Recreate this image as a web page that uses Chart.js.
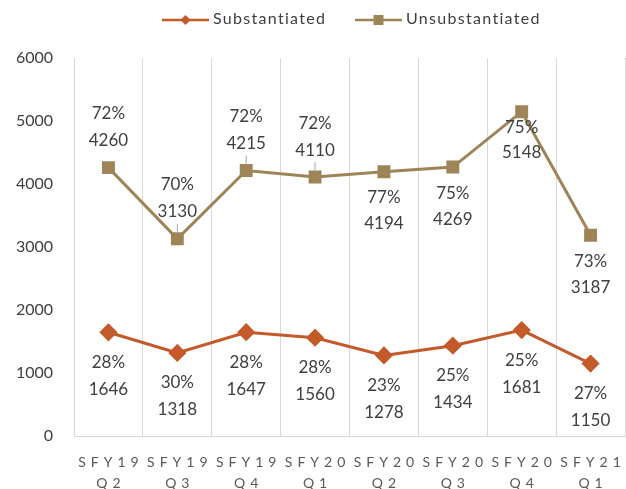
<!DOCTYPE html>
<html>
<head>
<meta charset="utf-8">
<script src="https://cdn.jsdelivr.net/npm/chart.js@4"></script>
<style>
  html, body { margin: 0; padding: 0; background: #fff; }
  #wrap { width: 626px; height: 489px; }
</style>
</head>
<body>
<div id="wrap"><canvas id="chart" width="626" height="489"></canvas></div>
<script>
const quarters = [['SFY19', 'Q2'], ['SFY19', 'Q3'], ['SFY19', 'Q4'], ['SFY20', 'Q1'],
                  ['SFY20', 'Q2'], ['SFY20', 'Q3'], ['SFY20', 'Q4'], ['SFY21', 'Q1']];
const substantiated = [1646, 1318, 1647, 1560, 1278, 1434, 1681, 1150];
const unsubstantiated = [4260, 3130, 4215, 4110, 4194, 4269, 5148, 3187];
const substPct = ['28%', '30%', '28%', '28%', '23%', '25%', '25%', '27%'];
const unsubPct = ['72%', '70%', '72%', '72%', '77%', '75%', '75%', '73%'];
// where the unsubstantiated labels sit: above or below the point
const unsubAbove = [true, true, true, true, false, false, false, false];

const ORANGE = '#C4592A';
const TAN = '#9E8457';
const FONT = 'Lato, "Open Sans", sans-serif';

const labelPlugin = {
  id: 'labels',
  afterDraw(chart) {
    const ctx = chart.ctx;
    const x = chart.scales.x;
    ctx.save();

    // data labels
    ctx.font = '17px ' + FONT;
    ctx.fillStyle = '#404040';
    ctx.textAlign = 'center';
    ctx.textBaseline = 'middle';
    chart.getDatasetMeta(0).data.forEach((pt, i) => {
      ctx.fillText(substPct[i], pt.x, pt.y + 30);
      ctx.fillText(String(substantiated[i]), pt.x, pt.y + 57);
    });
    chart.getDatasetMeta(1).data.forEach((pt, i) => {
      if (i === 6) {
        ctx.fillText(unsubPct[i], pt.x, pt.y + 16);
        ctx.fillText(String(unsubstantiated[i]), pt.x, pt.y + 41);
      } else if (unsubAbove[i]) {
        ctx.fillText(unsubPct[i], pt.x, pt.y - 54);
        ctx.fillText(String(unsubstantiated[i]), pt.x, pt.y - 27);
      } else {
        ctx.fillText(unsubPct[i], pt.x, pt.y + 26);
        ctx.fillText(String(unsubstantiated[i]), pt.x, pt.y + 52);
      }
    });

    // small leader ticks from labels to points
    ctx.strokeStyle = '#A6A6A6';
    ctx.lineWidth = 1;
    [1, 2, 3].forEach(i => {
      const pt = chart.getDatasetMeta(1).data[i];
      ctx.beginPath();
      ctx.moveTo(pt.x, pt.y - 15);
      ctx.lineTo(pt.x, pt.y - 5);
      ctx.stroke();
    });

    // category labels, letter spaced
    ctx.font = '14px ' + FONT;
    ctx.fillStyle = '#595959';
    ctx.letterSpacing = '5px';
    quarters.forEach((q, i) => {
      const px = x.getPixelForValue(i) + 2.5;
      ctx.fillText(q[0], px, chart.chartArea.bottom + 26);
      ctx.fillText(q[1], px, chart.chartArea.bottom + 47);
    });

    // legend
    const items = [
      { text: 'Substantiated', color: ORANGE, style: 'rectRot', x: 162 },
      { text: 'Unsubstantiated', color: TAN, style: 'rect', x: 355 }
    ];
    ctx.font = '16px ' + FONT;
    ctx.letterSpacing = '1.3px';
    ctx.textAlign = 'left';
    items.forEach(it => {
      const ly = 20;
      ctx.strokeStyle = it.color;
      ctx.lineWidth = 2.5;
      ctx.beginPath();
      ctx.moveTo(it.x, ly);
      ctx.lineTo(it.x + 47, ly);
      ctx.stroke();
      ctx.fillStyle = it.color;
      if (it.style === 'rect') {
        ctx.fillRect(it.x + 23.5 - 5, ly - 5, 10, 10);
      } else {
        ctx.beginPath();
        ctx.moveTo(it.x + 23.5, ly - 5);
        ctx.lineTo(it.x + 28.5, ly);
        ctx.lineTo(it.x + 23.5, ly + 5);
        ctx.lineTo(it.x + 18.5, ly);
        ctx.closePath();
        ctx.fill();
      }
      ctx.fillStyle = '#404040';
      ctx.fillText(it.text, it.x + 51, ly - 1);
    });
    ctx.restore();
  }
};

new Chart(document.getElementById('chart'), {
  type: 'line',
  data: {
    labels: quarters.map(q => q.join(' ')),
    datasets: [
      {
        label: 'Substantiated',
        data: substantiated,
        borderColor: ORANGE,
        backgroundColor: ORANGE,
        borderWidth: 3,
        pointStyle: 'rectRot',
        pointRadius: 7,
        pointHoverRadius: 7,
        tension: 0
      },
      {
        label: 'Unsubstantiated',
        data: unsubstantiated,
        borderColor: TAN,
        backgroundColor: TAN,
        borderWidth: 3,
        pointStyle: 'rect',
        pointRadius: 7,
        pointHoverRadius: 7,
        tension: 0
      }
    ]
  },
  options: {
    responsive: false,
    animation: false,
    layout: { autoPadding: false, padding: { left: 16, right: 1, top: 58, bottom: 53 } },
    plugins: {
      legend: { display: false },
      tooltip: { enabled: false }
    },
    scales: {
      x: {
        offset: true,
        grid: { offset: true, color: '#D9D9D9', drawTicks: false },
        border: { color: '#D9D9D9' },
        ticks: { display: false }
      },
      y: {
        min: 0,
        max: 6000,
        afterFit: s => { s.width = 58; },
        ticks: {
          stepSize: 1000,
          padding: 21,
          color: '#404040',
          font: { family: FONT, size: 16 },
          callback: v => String(v)
        },
        grid: { display: false, drawTicks: false },
        border: { display: false }
      }
    }
  },
  plugins: [labelPlugin]
});
</script>
</body>
</html>
